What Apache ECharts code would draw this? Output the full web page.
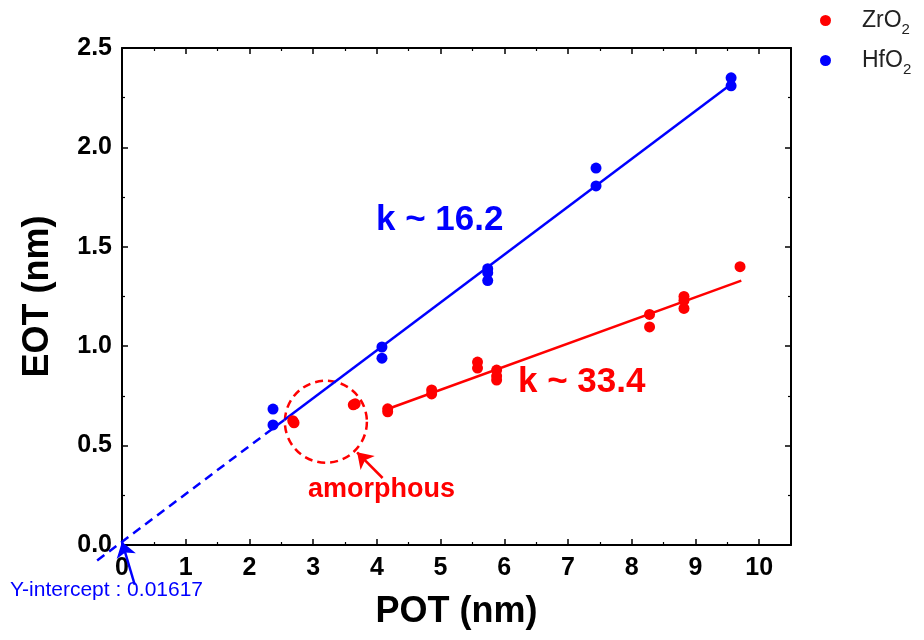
<!DOCTYPE html>
<html><head><meta charset="utf-8">
<script src="https://cdn.jsdelivr.net/npm/echarts@6/dist/echarts.min.js"></script>
<style>html,body{margin:0;padding:0;background:#fff}#c{width:924px;height:640px}</style>
</head><body><div id="c"></div>
<script>
// ---- data ----
const zrX = [2.68, 2.70, 3.63, 3.66, 4.17, 4.17, 4.86, 4.86, 5.58, 5.58, 5.88, 5.88, 5.88, 8.28, 8.28, 8.82, 8.82, 8.82, 9.70];
const zrY = [0.625, 0.615, 0.705, 0.71, 0.685, 0.67, 0.78, 0.76, 0.92, 0.89, 0.88, 0.85, 0.83, 1.16, 1.097, 1.25, 1.23, 1.19, 1.40];
const hfX = [2.37, 2.37, 4.08, 4.08, 5.74, 5.74, 5.74, 7.44, 7.44, 9.56, 9.56];
const hfY = [0.684, 0.604, 0.996, 0.94, 1.39, 1.37, 1.33, 1.896, 1.806, 2.35, 2.31];
const hfFitSolidX = [2.55, 9.58];
const hfFitDashX = [-0.39, 2.55];
const hfSlope = 0.2407, hfIntercept = 0.01617;
const zrFitX = [4.17, 9.72];
const zrFitY = [0.684, 1.33];
const xTicks = [0,1,2,3,4,5,6,7,8,9,10];
const yTicks = [0.0,0.5,1.0,1.5,2.0,2.5];

const FONT = '"Liberation Sans", Arial, sans-serif';
const chart = echarts.init(document.getElementById('c'));
const pairs = (xs, ys) => xs.map((x,i)=>[x, ys[i]]);
const hfLine = xs => xs.map(x=>[x, hfIntercept + hfSlope*x]);

const axisCommon = {
  axisLine:{show:true, onZero:false, lineStyle:{color:'#000', width:2}},
  axisTick:{show:true, inside:true, length:6, lineStyle:{color:'#000', width:1.5}},
  minorTick:{show:true, splitNumber:2, length:3, lineStyle:{color:'#000', width:1.2}},
  splitLine:{show:false}
};

chart.setOption({
  animation:false,
  backgroundColor:'#fff',
  grid:{left:122, top:48, right:133, bottom:95, containLabel:false},
  legend:{
    orient:'vertical', left:815, top:4, itemGap:12,
    icon:'circle', itemWidth:11, itemHeight:11,
    data:['ZrO2','HfO2'],
    formatter: n => '{a|' + n.slice(0,-1) + '}{s|' + n.slice(-1) + '}',
    textStyle:{fontFamily:FONT, color:'#222', rich:{
      a:{fontSize:23, fontFamily:FONT, color:'#222', padding:[0,0,0,26]},
      s:{fontSize:15, fontFamily:FONT, color:'#222', verticalAlign:'bottom', padding:[18,0,0,0]}
    }}
  },
  xAxis:[
    Object.assign({type:'value', min:0, max:10.5, interval:1, position:'bottom',
      name:'POT (nm)', nameLocation:'middle', nameGap:49,
      nameTextStyle:{fontFamily:FONT, fontSize:36, fontWeight:'bold', color:'#000'},
      axisLabel:{fontFamily:FONT, fontSize:25, fontWeight:'bold', color:'#000', margin:11, showMaxLabel:false,
        formatter:v=> xTicks.includes(v)? String(v):''}}, axisCommon),
    Object.assign({type:'value', min:0, max:10.5, interval:1, position:'top', axisLabel:{show:false}}, axisCommon)
  ],
  yAxis:[
    Object.assign({type:'value', min:0, max:2.5, interval:0.5, position:'left',
      name:'EOT (nm)', nameLocation:'middle', nameGap:66,
      nameTextStyle:{fontFamily:FONT, fontSize:36, fontWeight:'bold', color:'#000'},
      axisLabel:{fontFamily:FONT, fontSize:25, fontWeight:'bold', color:'#000', margin:10,
        formatter:v=> yTicks.includes(v)? v.toFixed(1):''}}, axisCommon),
    Object.assign({type:'value', min:0, max:2.5, interval:0.5, position:'right', axisLabel:{show:false}}, axisCommon)
  ],
  series:[
    {name:'ZrO2', type:'scatter', data:pairs(zrX,zrY), symbolSize:11, itemStyle:{color:'#ff0000', opacity:1}, z:5},
    {name:'HfO2', type:'scatter', data:pairs(hfX,hfY), symbolSize:11, itemStyle:{color:'#0000ff', opacity:1}, z:5},
    {type:'line', data:hfLine(hfFitSolidX), showSymbol:false, lineStyle:{color:'#0000ff', width:2.5}, z:4, silent:true},
    {type:'line', data:pairs(zrFitX,zrFitY), showSymbol:false, lineStyle:{color:'#ff0000', width:2.5}, z:4, silent:true},
    // dashed extrapolation of HfO2 fit
    {type:'lines', coordinateSystem:'cartesian2d', clip:false, silent:true, z:4,
      data:[{coords:hfLine(hfFitDashX)}],
      lineStyle:{color:'#0000ff', width:2.5, type:[9,6], opacity:1}},
    // dashed circle around amorphous points
    {type:'scatter', data:[[3.2, 0.62]], symbolSize:82, silent:true, z:3,
      itemStyle:{color:'rgba(0,0,0,0)', opacity:1, borderColor:'#ff0000', borderWidth:2.5, borderType:[8,5]}},
    // arrows
    {type:'lines', coordinateSystem:'cartesian2d', clip:false, silent:true, z:6,
      symbol:['none','arrow'], symbolSize:[13,15],
      data:[
        {coords:[[4.09,0.337],[3.69,0.466]], lineStyle:{color:'#ff0000', width:2.5, opacity:1}},
        {coords:[[0.2,-0.2],[0.0,0.016]], lineStyle:{color:'#0000ff', width:2.5, opacity:1}}
      ]}
  ],
  graphic:[
    {type:'text', left:376, top:203, style:{text:'k ~ 16.2', fontFamily:FONT, fontSize:35, fontWeight:'bold', fill:'#0000ff'}},
    {type:'text', left:518, top:365, style:{text:'k ~ 33.4', fontFamily:FONT, fontSize:35, fontWeight:'bold', fill:'#ff0000'}},
    {type:'text', left:308, top:476, style:{text:'amorphous', fontFamily:FONT, fontSize:27, fontWeight:'bold', fill:'#ff0000'}},
    {type:'text', left:10, top:580, style:{text:'Y-intercept : 0.01617', fontFamily:FONT, fontSize:21, fill:'#0000ff'}}
  ]
});
</script></body></html>
